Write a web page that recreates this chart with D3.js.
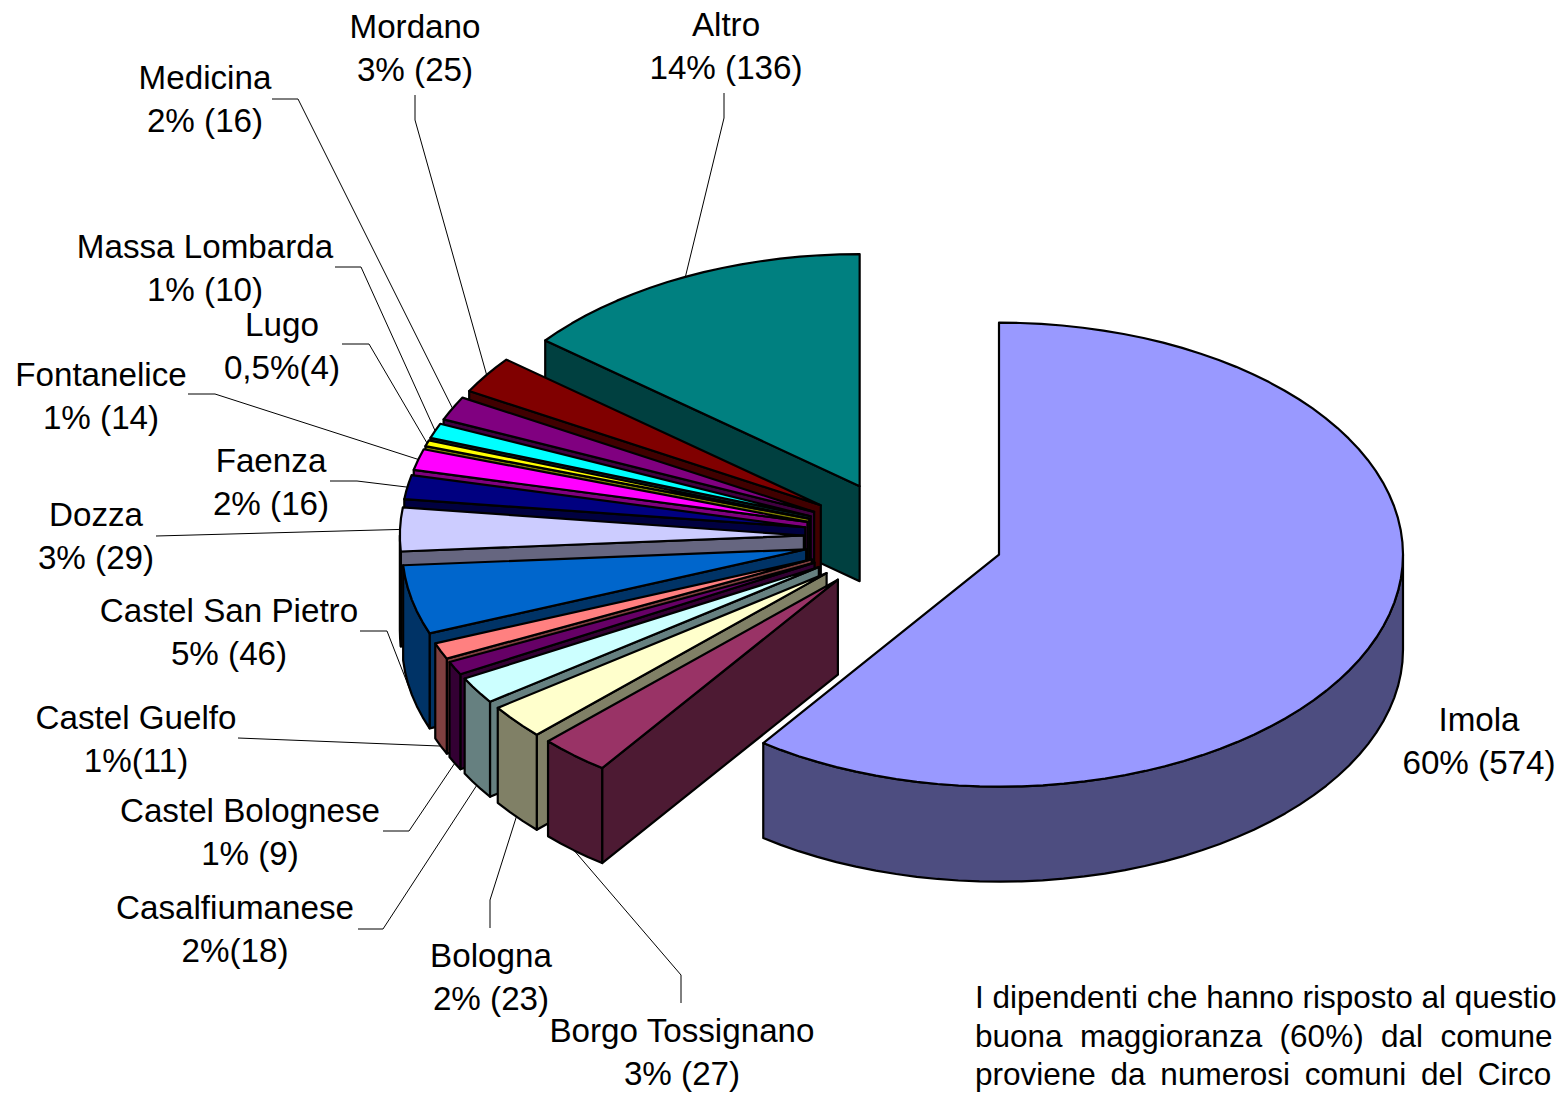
<!DOCTYPE html>
<html><head><meta charset="utf-8">
<script src="https://cdn.jsdelivr.net/npm/d3@7/dist/d3.min.js"></script>
<style>html,body{margin:0;padding:0;background:#fff;overflow:hidden}svg{display:block}text{font-family:"Liberation Sans",Arial,sans-serif;fill:#000}</style>
</head><body><svg id="c" width="1557" height="1093"></svg>
<script>
// Data, clockwise from twelve o'clock
const categories=["Imola","Borgo Tossignano","Bologna","Casalfiumanese","Castel Bolognese","Castel Guelfo","Castel San Pietro","Dozza","Faenza","Fontanelice","Lugo","Massa Lombarda","Medicina","Mordano","Altro"];
const values=[574,27,23,18,9,11,46,29,16,14,4,10,16,25,136];
const valueLabels=["60% (574)","3% (27)","2% (23)","2%(18)","1% (9)","1%(11)","5% (46)","3% (29)","2% (16)","1% (14)","0,5%(4)","1% (10)","2% (16)","3% (25)","14% (136)"];
const topColors=["#9999FF","#993366","#FFFFCC","#CCFFFF","#660066","#FF8080","#0066CC","#CCCCFF","#000080","#FF00FF","#FFFF00","#00FFFF","#800080","#800000","#008080"];
const sideColors=["#4D4D80","#4D1A33","#808066","#668080","#330033","#804040","#003366","#666680","#000040","#800080","#808000","#004040","#400040","#400000","#004040"];
// Layout
const labelCenters=[[1479,731],[682,1042],[491,967],[235,919],[250,822],[136,729],[229,622],[96,526],[271,472],[101,386],[282,336],[205,258],[205,89],[415,38],[726,36]];
const leaderBends=[null,[[681,1003],[681,975]],[[490,928],[490,900]],[[358,929],[383,929]],[[383,831],[409,831]],[[238,738]],[[360,631],[387,631]],[[156,536]],[[330,481],[357,481]],[[188,394],[215,394]],[[342,344],[369,344]],[[335,267],[361,267]],[[272,99],[298,99]],[[415,95],[415,120]],[[724,93],[724,118]]];
const noteLines=[["I dipendenti che hanno risposto al questio",0],["buona maggioranza (60%) dal comune",8.7],["proviene da numerosi comuni del Circo",6]];
const center=[902,537],radii=[404,232],explode=0.243,depth=95,fontSize=33.2;

const svg=d3.select("#c");
const sx=d3.scaleLinear().domain([-1,1]).range([center[0]-radii[0],center[0]+radii[0]]);
const sy=d3.scaleLinear().domain([-1,1]).range([center[1]-radii[1],center[1]+radii[1]]);
const arcs=d3.pie().sort(null).startAngle(0).endAngle(2*Math.PI)(values);
const pt=(a,r,o,dz=0)=>[sx(o[0]+r*Math.sin(a)),sy(o[1]-r*Math.cos(a))+dz];
const rim=(a0,a1,o,dz=0)=>{const n=Math.max(1,Math.ceil((a1-a0)/(Math.PI/60)));
  return d3.range(n+1).map(i=>pt(a0+(a1-a0)*i/n,1,o,dz));};
const line=d3.line();
const poly=(pts,fill)=>svg.append("path").attr("d",line(pts)+"Z").attr("fill",fill).attr("stroke","#000").attr("stroke-width",2.2).attr("stroke-linejoin","round");

const slices=arcs.map((d,i)=>{const mid=(d.startAngle+d.endAngle)/2;
  return {d,i,mid,o:[explode*Math.sin(mid),-explode*Math.cos(mid)]};});

// The large first slice keeps the measured offset that places it at the reference position
slices[0].o=[0.2401,0.0762];

d3.reverse(slices).forEach(({d,i,o})=>{
  const a=d.startAngle,b=d.endAngle,P=pt(0,0,o);
  if(Math.sin(a)<-1e-6){const R=pt(a,1,o);poly([P,R,[R[0],R[1]+depth],[P[0],P[1]+depth]],sideColors[i]);}
  if(Math.sin(b)>1e-6){const R=pt(b,1,o);poly([P,R,[R[0],R[1]+depth],[P[0],P[1]+depth]],sideColors[i]);}
  const w0=Math.max(a,Math.PI/2),w1=Math.min(b,3*Math.PI/2);
  if(w1>w0){poly(rim(w0,w1,o).concat(rim(w0,w1,o,depth).reverse()),sideColors[i]);}
  poly([P].concat(rim(a,b,o)),topColors[i]);
});

// Leader lines end on the slice rim at its mid angle
slices.forEach(({i,mid,o})=>{
  if(!leaderBends[i])return;
  const end=pt(mid,1,o,Math.cos(mid)<0?depth:0);
  svg.append("path").attr("d",line(leaderBends[i].concat([end]))).attr("fill","none").attr("stroke","#000").attr("stroke-width",1);
});

categories.forEach((c,i)=>{
  const [x,y]=labelCenters[i];
  const t=svg.append("text").attr("text-anchor","middle").attr("font-size",fontSize);
  t.append("tspan").attr("x",x).attr("y",y).text(c);
  t.append("tspan").attr("x",x).attr("y",y+43.3).text(valueLabels[i]);
});

noteLines.forEach((l,i)=>{
  svg.append("text").attr("x",975).attr("y",1008+i*38.5).attr("font-size",31.5).attr("word-spacing",l[1]).text(l[0]);
});
</script></body></html>
